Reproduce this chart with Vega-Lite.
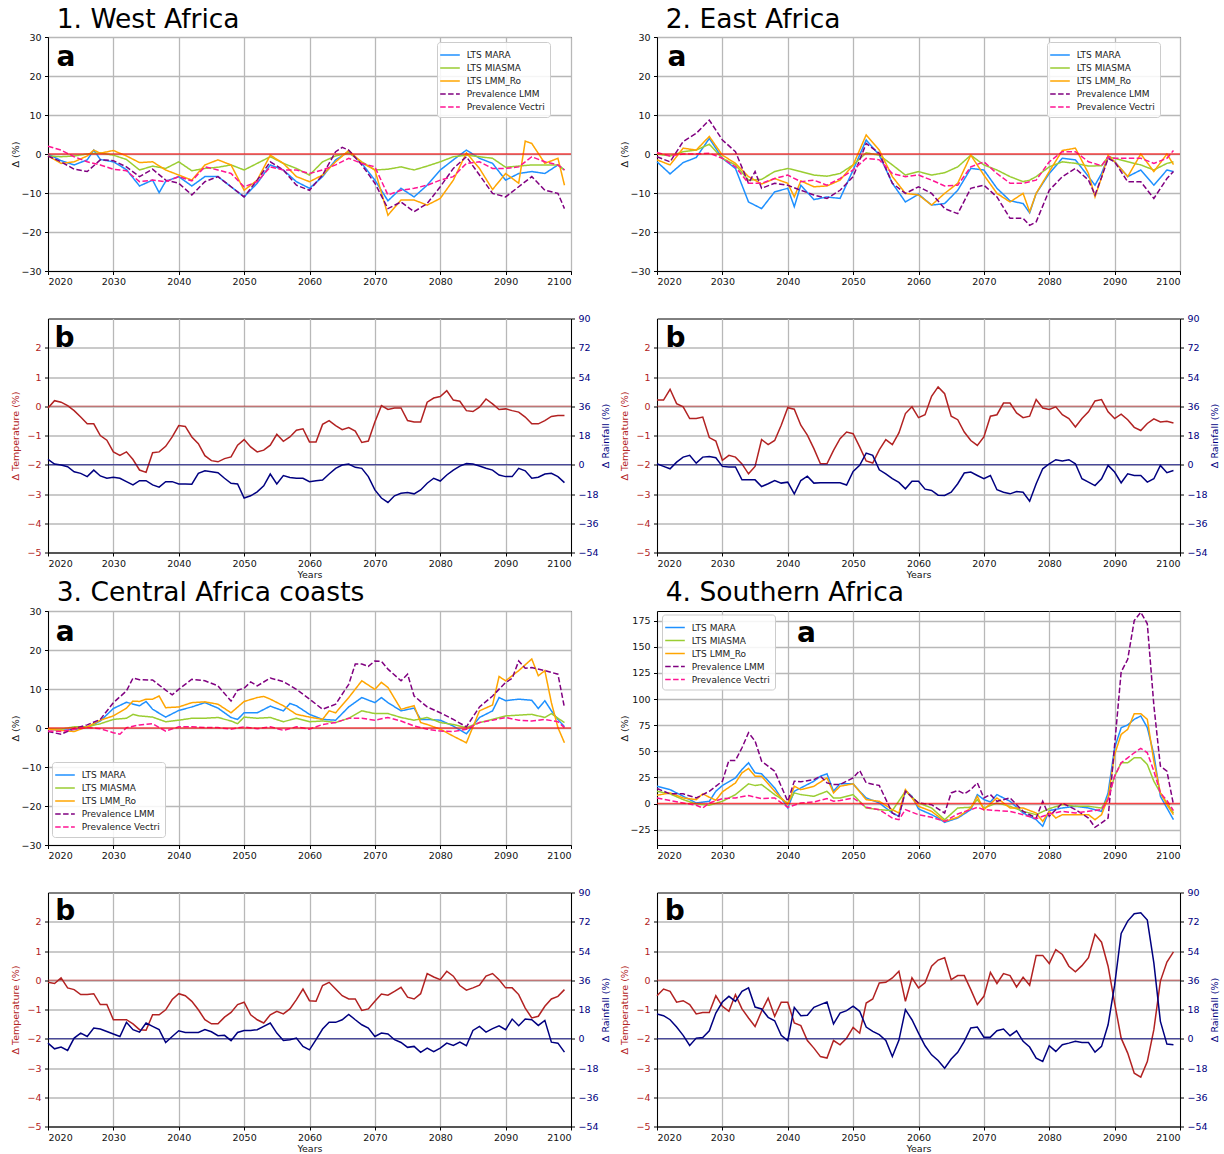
{
"$schema": "https://vega.github.io/schema/vega-lite/v6.json",
"padding": {"left": 9, "top": 6, "right": 2, "bottom": 2},
"background": "white",
"config": {
 "font": "DejaVu Sans",
 "view": {"stroke": "black", "strokeWidth": 1},
 "axis": {"labelFontSize": 9.5, "titleFontSize": 9.5, "titleFontWeight": "normal", "labelColor": "#111111", "titleColor": "#111111", "tickColor": "black", "domainColor": "black", "tickSize": 3.5, "labelPadding": 3.5, "gridColor": "#b8b8b8", "gridWidth": 1.3, "labelOverlap": false},
 "axisX": {"labelPadding": 2},
 "legend": {"labelFontSize": 9, "labelColor": "#222222", "symbolStrokeWidth": 1.5, "symbolSize": 196, "fillColor": "rgba(255,255,255,0.85)", "strokeColor": "#cccccc", "cornerRadius": 3, "padding": 5, "rowPadding": 0, "labelOffset": 8.8},
 "title": {"fontSize": 26.5, "fontWeight": "normal", "anchor": "start", "frame": "group", "color": "black"}
},
"data": {"values": [
{"r":1,"t":2020,"m":0,"i":-0.5,"o":-0.5,"l":-0.5,"v":2,"T":-0.06,"R":3.3},
{"r":1,"t":2021,"T":0.19,"R":0.4},
{"r":1,"t":2022,"m":-1.7,"i":-0.7,"o":-2.4,"l":-2,"v":1,"T":0.14,"R":-0.2},
{"r":1,"t":2023,"T":0.02,"R":-1.2},
{"r":1,"t":2024,"m":-2.8,"i":-0.5,"o":-2,"l":-3.9,"v":-0.7,"T":-0.15,"R":-4.3},
{"r":1,"t":2025,"T":-0.37,"R":-5.3},
{"r":1,"t":2026,"m":-1.5,"i":0,"o":-0.5,"l":-4.5,"v":-2,"T":-0.6,"R":-7.3},
{"r":1,"t":2027,"m":1,"o":1,"T":-0.6,"R":-3.3},
{"r":1,"t":2028,"m":-1.4,"i":0.3,"o":0.2,"l":-1.5,"v":-2.8,"T":-1,"R":-6.9},
{"r":1,"t":2029,"T":-1.16,"R":-8.3},
{"r":1,"t":2030,"m":-2,"i":-0.3,"o":0.9,"l":-1.7,"v":-3.9,"T":-1.56,"R":-7.7},
{"r":1,"t":2031,"T":-1.68,"R":-8.3},
{"r":1,"t":2032,"m":-4,"i":-1.4,"o":-0.5,"l":-3.3,"v":-4.3,"T":-1.56,"R":-10.4},
{"r":1,"t":2033,"T":-1.82,"R":-12.4},
{"r":1,"t":2034,"m":-8.2,"i":-4.1,"o":-2.2,"l":-5.8,"v":-7.1,"T":-2.18,"R":-9.8},
{"r":1,"t":2035,"T":-2.26,"R":-9.8},
{"r":1,"t":2036,"m":-6.7,"i":-3.1,"o":-2,"l":-3.9,"v":-6.7,"T":-1.59,"R":-12.4},
{"r":1,"t":2037,"m":-9.9,"T":-1.56,"R":-13.8},
{"r":1,"t":2038,"m":-7,"i":-3.7,"o":-4.1,"l":-6.7,"v":-7.1,"T":-1.37,"R":-10.4},
{"r":1,"t":2039,"T":-1.05,"R":-10.4},
{"r":1,"t":2040,"m":-5.8,"i":-2,"o":-5.4,"l":-7.5,"v":-5.8,"T":-0.66,"R":-11.8},
{"r":1,"t":2041,"T":-0.69,"R":-11.8},
{"r":1,"t":2042,"m":-8.2,"i":-4.3,"o":-6.7,"l":-10.5,"v":-6.9,"T":-1.05,"R":-12},
{"r":1,"t":2043,"T":-1.28,"R":-5.3},
{"r":1,"t":2044,"m":-5.8,"i":-3.7,"o":-2.8,"l":-7.1,"v":-3.3,"T":-1.69,"R":-3.7},
{"r":1,"t":2045,"T":-1.86,"R":-4.3},
{"r":1,"t":2046,"m":-5.8,"i":-3.4,"o":-1.5,"l":-5.8,"v":-4.1,"T":-1.9,"R":-4.9},
{"r":1,"t":2047,"T":-1.79,"R":-8.3},
{"r":1,"t":2048,"m":-8.4,"i":-2.8,"o":-2.8,"l":-8.4,"v":-5,"T":-1.73,"R":-11.4},
{"r":1,"t":2049,"T":-1.33,"R":-11.8},
{"r":1,"t":2050,"m":-11,"i":-4.1,"o":-9.3,"l":-11,"v":-8.4,"T":-1.14,"R":-20.5},
{"r":1,"t":2051,"T":-1.39,"R":-19.1},
{"r":1,"t":2052,"m":-7.5,"i":-2.4,"o":-6.7,"l":-6.7,"v":-7.1,"T":-1.56,"R":-16.7},
{"r":1,"t":2053,"T":-1.5,"R":-13},
{"r":1,"t":2054,"m":-2.8,"i":-0.7,"o":-0.3,"l":-2,"v":-3.3,"T":-1.33,"R":-5.7},
{"r":1,"t":2055,"T":-0.96,"R":-11.8},
{"r":1,"t":2056,"m":-4.1,"i":-2.4,"o":-2.4,"l":-4.1,"v":-4.1,"T":-1.2,"R":-6.7},
{"r":1,"t":2057,"T":-1.05,"R":-7.9},
{"r":1,"t":2058,"m":-7.1,"i":-3.7,"o":-5.8,"l":-8,"v":-4.1,"T":-0.82,"R":-8.3},
{"r":1,"t":2059,"T":-0.77,"R":-8.3},
{"r":1,"t":2060,"m":-8.8,"i":-5.4,"o":-7.1,"l":-9.3,"v":-5,"T":-1.22,"R":-10.4},
{"r":1,"t":2061,"T":-1.22,"R":-9.8},
{"r":1,"t":2062,"m":-5.8,"i":-2,"o":-5.4,"l":-5.4,"v":-4.1,"T":-0.62,"R":-9.4},
{"r":1,"t":2063,"T":-0.49,"R":-5.7},
{"r":1,"t":2064,"m":-1.5,"i":-0.5,"o":-2,"l":0.6,"v":-2.8,"T":-0.66,"R":-2.2},
{"r":1,"t":2065,"l":1.7,"T":-0.8,"R":-0.2},
{"r":1,"t":2066,"m":0.6,"i":0.3,"o":0.9,"l":1,"v":-1.1,"T":-0.73,"R":0.4},
{"r":1,"t":2067,"T":-0.85,"R":-1.6},
{"r":1,"t":2068,"m":-2.4,"i":-2,"o":-2.2,"l":-2.8,"v":-2.4,"T":-1.24,"R":-2.2},
{"r":1,"t":2069,"T":-1.19,"R":-7.3},
{"r":1,"t":2070,"m":-6.7,"i":-4.1,"o":-4.1,"l":-7.5,"v":-3.3,"T":-0.54,"R":-15.5},
{"r":1,"t":2071,"T":0.02,"R":-20.5},
{"r":1,"t":2072,"m":-12,"i":-3.9,"o":-15.7,"l":-14,"v":-10.5,"T":-0.11,"R":-23.2},
{"r":1,"t":2073,"T":-0.06,"R":-19.1},
{"r":1,"t":2074,"m":-8.8,"i":-3.3,"o":-11.8,"l":-12.3,"v":-9.3,"T":-0.06,"R":-17.5},
{"r":1,"t":2075,"T":-0.49,"R":-17.1},
{"r":1,"t":2076,"m":-11,"i":-4.1,"o":-11.8,"l":-14.8,"v":-8.8,"T":-0.54,"R":-17.9},
{"r":1,"t":2077,"T":-0.54,"R":-15.5},
{"r":1,"t":2078,"m":-8,"i":-3.1,"o":-13.1,"l":-12.7,"v":-8,"T":0.14,"R":-11.4},
{"r":1,"t":2079,"T":0.28,"R":-8.3},
{"r":1,"t":2080,"m":-4.1,"i":-2,"o":-11.4,"l":-8.4,"v":-6.7,"T":0.33,"R":-10},
{"r":1,"t":2081,"T":0.53,"R":-6.3},
{"r":1,"t":2082,"m":-1.5,"i":-0.7,"o":-6.7,"l":-3.7,"v":-5.8,"T":0.21,"R":-3.3},
{"r":1,"t":2083,"T":0.17,"R":-0.8},
{"r":1,"t":2084,"m":1,"i":-0.3,"o":0.3,"l":-0.7,"v":-2.4,"T":-0.15,"R":0.8},
{"r":1,"t":2085,"T":-0.18,"R":0.4},
{"r":1,"t":2086,"m":-1.1,"i":-0.7,"o":-3.7,"l":-5.4,"v":-2,"T":-0.03,"R":-0.8},
{"r":1,"t":2087,"T":0.25,"R":-2.2},
{"r":1,"t":2088,"m":-2.4,"i":-1.1,"o":-9.1,"l":-10.1,"v":-3.7,"T":0.08,"R":-3.3},
{"r":1,"t":2089,"T":-0.11,"R":-6.3},
{"r":1,"t":2090,"m":-6.7,"i":-3.4,"o":-5,"l":-11,"v":-3.7,"T":-0.09,"R":-7.3},
{"r":1,"t":2091,"T":-0.15,"R":-7.3},
{"r":1,"t":2092,"m":-5,"i":-3.1,"o":-7.5,"l":-8.4,"v":-3.3,"T":-0.2,"R":-2.2},
{"r":1,"t":2093,"o":3.3,"T":-0.37,"R":-3.7},
{"r":1,"t":2094,"m":-4.5,"i":-2.8,"o":2.7,"l":-5.8,"v":-0.7,"T":-0.6,"R":-8.3},
{"r":1,"t":2095,"T":-0.6,"R":-7.7},
{"r":1,"t":2096,"m":-5,"i":-2.8,"o":-2.4,"l":-9.3,"v":-2,"T":-0.49,"R":-5.7},
{"r":1,"t":2097,"T":-0.35,"R":-5.3},
{"r":1,"t":2098,"m":-2.8,"i":-2.8,"o":-1.1,"l":-10.1,"v":-2.8,"T":-0.32,"R":-7.3},
{"r":1,"t":2099,"m":-4.1,"i":-4.1,"o":-8,"l":-14,"v":-4.1,"T":-0.32,"R":-11},
{"r":2,"t":2020,"m":-2,"i":0,"o":-1.5,"l":-0.7,"v":0.4,"T":0.21,"R":0.6},
{"r":2,"t":2021,"T":0.21,"R":-1},
{"r":2,"t":2022,"m":-5.1,"i":-0.5,"o":-2.8,"l":-2,"v":-0.5,"T":0.58,"R":-2.5},
{"r":2,"t":2023,"T":0.09,"R":1.6},
{"r":2,"t":2024,"m":-2.2,"i":0.6,"o":1.5,"l":3.2,"v":0,"T":-0.02,"R":4.7},
{"r":2,"t":2025,"T":-0.42,"R":5.8},
{"r":2,"t":2026,"m":-0.9,"i":1,"o":1,"l":5.3,"v":0,"T":-0.42,"R":1},
{"r":2,"t":2027,"T":-0.37,"R":4.7},
{"r":2,"t":2028,"m":4,"i":2.5,"o":4.5,"l":8.7,"v":0.2,"T":-1.07,"R":5.1},
{"r":2,"t":2029,"T":-1.19,"R":4.3},
{"r":2,"t":2030,"m":-1.1,"i":-1.1,"o":-0.3,"l":3.6,"v":-1.1,"T":-1.85,"R":-1},
{"r":2,"t":2031,"T":-1.68,"R":-1.4},
{"r":2,"t":2032,"m":-3.7,"i":-2.8,"o":-2.4,"l":0.6,"v":-3.3,"T":-1.74,"R":-1.4},
{"r":2,"t":2033,"T":-1.97,"R":-9.3},
{"r":2,"t":2034,"m":-12.3,"i":-6.7,"o":-5.8,"l":-7.5,"v":-7.5,"T":-2.31,"R":-9.3},
{"r":2,"t":2035,"l":-4.5,"T":-2.06,"R":-9.3},
{"r":2,"t":2036,"m":-14,"i":-6.5,"o":-7.7,"l":-8.8,"v":-7.5,"T":-1.14,"R":-13.4},
{"r":2,"t":2037,"T":-1.31,"R":-11.7},
{"r":2,"t":2038,"m":-9.7,"i":-4.5,"o":-6.3,"l":-7.5,"v":-6.3,"T":-1.17,"R":-9.7},
{"r":2,"t":2039,"T":-0.65,"R":-11.3},
{"r":2,"t":2040,"m":-8.8,"i":-3.7,"o":-7.5,"l":-8,"v":-5.4,"T":-0.05,"R":-10.7},
{"r":2,"t":2041,"m":-13.5,"o":-11,"T":-0.1,"R":-17.9},
{"r":2,"t":2042,"m":-8,"i":-4.5,"o":-6.9,"l":-9.3,"v":-7.1,"T":-0.65,"R":-9.7},
{"r":2,"t":2043,"T":-0.99,"R":-7},
{"r":2,"t":2044,"m":-11.7,"i":-5.4,"o":-8.4,"l":-10.5,"v":-6.7,"T":-1.45,"R":-11.3},
{"r":2,"t":2045,"T":-1.97,"R":-11.1},
{"r":2,"t":2046,"m":-11,"i":-5.7,"o":-8.2,"l":-11.4,"v":-8,"T":-1.97,"R":-11.1},
{"r":2,"t":2047,"T":-1.51,"R":-11.1},
{"r":2,"t":2048,"m":-11.4,"i":-5,"o":-6.7,"l":-9.3,"v":-6.3,"T":-1.11,"R":-11.1},
{"r":2,"t":2049,"T":-0.88,"R":-12.5},
{"r":2,"t":2050,"m":-4.1,"i":-2.8,"o":-2.8,"l":-5.8,"v":-4.1,"T":-0.94,"R":-4.1},
{"r":2,"t":2051,"T":-1.39,"R":-0.4},
{"r":2,"t":2052,"m":3.6,"i":0.3,"o":4.9,"l":2.7,"v":-1.1,"T":-1.87,"R":7.2},
{"r":2,"t":2053,"T":-1.94,"R":5.8},
{"r":2,"t":2054,"m":-0.3,"i":-0.3,"o":1,"l":0.2,"v":-1.5,"T":-1.49,"R":-3.1},
{"r":2,"t":2055,"T":-1.14,"R":-5.6},
{"r":2,"t":2056,"m":-7.5,"i":-2.8,"o":-5.8,"l":-7.5,"v":-5,"T":-1.31,"R":-8.6},
{"r":2,"t":2057,"T":-0.91,"R":-10.9},
{"r":2,"t":2058,"m":-12.3,"i":-5.4,"o":-10.1,"l":-10.1,"v":-5.8,"T":-0.25,"R":-14.8},
{"r":2,"t":2059,"T":-0.02,"R":-10.1},
{"r":2,"t":2060,"m":-10.3,"i":-4.5,"o":-10.5,"l":-8.4,"v":-5.4,"T":-0.39,"R":-10.1},
{"r":2,"t":2061,"T":-0.29,"R":-15},
{"r":2,"t":2062,"m":-13.1,"i":-5.4,"o":-13.1,"l":-10.1,"v":-6.7,"T":0.34,"R":-15.8},
{"r":2,"t":2063,"T":0.66,"R":-18.7},
{"r":2,"t":2064,"m":-12.7,"i":-4.8,"o":-10.1,"l":-14,"v":-8.2,"T":0.43,"R":-18.9},
{"r":2,"t":2065,"T":-0.34,"R":-16.9},
{"r":2,"t":2066,"m":-9.3,"i":-3.3,"o":-7.5,"l":-15.3,"v":-8,"T":-0.46,"R":-11.7},
{"r":2,"t":2067,"T":-0.88,"R":-5.1},
{"r":2,"t":2068,"m":-3.7,"i":-0.3,"o":-0.3,"l":-8.8,"v":-3.3,"T":-1.17,"R":-4.5},
{"r":2,"t":2069,"T":-1.34,"R":-6.6},
{"r":2,"t":2070,"m":-4.1,"i":-2.8,"o":-5.4,"l":-8,"v":-2,"T":-1.05,"R":-8.6},
{"r":2,"t":2071,"T":-0.34,"R":-6.6},
{"r":2,"t":2072,"m":-8.8,"i":-4.1,"o":-10.1,"l":-11,"v":-5,"T":-0.29,"R":-15.4},
{"r":2,"t":2073,"T":0.11,"R":-16.9},
{"r":2,"t":2074,"m":-12,"i":-5.8,"o":-12.3,"l":-16.5,"v":-7.5,"T":0.11,"R":-17.9},
{"r":2,"t":2075,"T":-0.23,"R":-16.5},
{"r":2,"t":2076,"m":-12.7,"i":-7.1,"o":-10.1,"l":-16.5,"v":-7.5,"T":-0.39,"R":-16.9},
{"r":2,"t":2077,"m":-15.1,"i":-6.7,"o":-14.8,"l":-18.3,"v":-7.1,"T":-0.34,"R":-22.4},
{"r":2,"t":2078,"m":-10.1,"i":-5.8,"o":-10.1,"l":-17.4,"v":-6.7,"T":0.23,"R":-11.7},
{"r":2,"t":2079,"T":-0.06,"R":-2.5},
{"r":2,"t":2080,"m":-5,"i":-3.3,"o":-4.5,"l":-9.3,"v":-2,"T":-0.11,"R":0.6},
{"r":2,"t":2081,"T":-0.02,"R":3.1},
{"r":2,"t":2082,"m":-1.1,"i":-2,"o":0.9,"l":-5.8,"v":0.6,"T":-0.29,"R":2.3},
{"r":2,"t":2083,"T":-0.42,"R":3.1},
{"r":2,"t":2084,"m":-1.5,"i":-2.4,"o":1.5,"l":-3.7,"v":0.6,"T":-0.71,"R":0.6},
{"r":2,"t":2085,"T":-0.42,"R":-8.6},
{"r":2,"t":2086,"m":-5.8,"i":-3.1,"o":-5,"l":-6.7,"v":-2,"T":-0.19,"R":-10.7},
{"r":2,"t":2087,"m":-8,"o":-11,"l":-10.5,"T":0.18,"R":-12.8},
{"r":2,"t":2088,"m":-5,"i":-3,"o":-6,"l":-6,"v":-3,"T":0.23,"R":-8.6},
{"r":2,"t":2089,"m":-0.7,"i":-0.7,"o":-0.3,"l":-1.1,"v":-0.7,"T":-0.19,"R":-0.4},
{"r":2,"t":2090,"m":-2,"i":-1.1,"o":-2,"l":-2,"v":-1.1,"T":-0.42,"R":-4.5},
{"r":2,"t":2091,"T":-0.27,"R":-11.1},
{"r":2,"t":2092,"m":-5.8,"i":-2,"o":-5.8,"l":-7.1,"v":-1.1,"T":-0.46,"R":-5.6},
{"r":2,"t":2093,"T":-0.72,"R":-6.6},
{"r":2,"t":2094,"m":-4.1,"i":-2.8,"o":0,"l":-7.1,"v":-1.1,"T":-0.83,"R":-6.6},
{"r":2,"t":2095,"T":-0.59,"R":-10.7},
{"r":2,"t":2096,"m":-8,"i":-4.1,"o":-4.5,"l":-11.4,"v":-2.4,"T":-0.43,"R":-8.6},
{"r":2,"t":2097,"T":-0.54,"R":-0.4},
{"r":2,"t":2098,"m":-4.1,"i":-2.4,"o":0,"l":-6.3,"v":-1.1,"T":-0.51,"R":-4.9},
{"r":2,"t":2099,"m":-4.5,"i":-2,"o":-2.7,"l":-4.5,"v":0.9,"T":-0.57,"R":-3.5},
{"r":3,"t":2020,"m":-0.3,"i":-0.2,"o":-0.3,"l":-0.9,"v":-0.8,"T":-0.07,"R":-2.7},
{"r":3,"t":2021,"T":-0.11,"R":-6.2},
{"r":3,"t":2022,"m":-0.6,"i":-0.3,"o":-0.6,"l":-1.6,"v":-0.9,"T":0.08,"R":-5.1},
{"r":3,"t":2023,"T":-0.26,"R":-7.2},
{"r":3,"t":2024,"m":-0.4,"i":0.3,"o":-0.9,"l":-0.1,"v":-0.3,"T":-0.32,"R":0.4},
{"r":3,"t":2025,"T":-0.49,"R":3.5},
{"r":3,"t":2026,"m":0.1,"i":0.3,"o":0.3,"l":0.8,"v":0.1,"T":-0.49,"R":1.4},
{"r":3,"t":2027,"T":-0.46,"R":6.6},
{"r":3,"t":2028,"m":1.8,"i":1.1,"o":2,"l":2.2,"v":-0.2,"T":-0.83,"R":6},
{"r":3,"t":2029,"T":-0.83,"R":4.5},
{"r":3,"t":2030,"m":5,"i":2.2,"o":3.1,"l":6.5,"v":-1.2,"T":-1.35,"R":2.9},
{"r":3,"t":2031,"v":-1.6,"T":-1.35,"R":1.4},
{"r":3,"t":2032,"m":6.6,"i":2.5,"o":5.1,"l":9.5,"v":0.1,"T":-1.35,"R":10.1},
{"r":3,"t":2033,"i":3.5,"o":6.9,"l":12.8,"T":-1.49,"R":5.6},
{"r":3,"t":2034,"m":5.7,"i":3.1,"o":6.8,"l":12.4,"v":0.8,"T":-1.69,"R":4.1},
{"r":3,"t":2035,"m":6.8,"o":7.4,"T":-1.71,"R":9.7},
{"r":3,"t":2036,"m":4.8,"i":2.8,"o":7.4,"l":12.3,"v":1.1,"T":-1.18,"R":7.6},
{"r":3,"t":2037,"o":8.2,"T":-1.18,"R":5.6},
{"r":3,"t":2038,"m":2.8,"i":1.6,"o":5.2,"l":9.7,"v":-0.8,"T":-1.01,"R":-2.3},
{"r":3,"t":2039,"l":8.5,"T":-0.66,"R":1.4},
{"r":3,"t":2040,"m":4.5,"i":2,"o":5.4,"l":9.9,"v":0.3,"T":-0.46,"R":4.9},
{"r":3,"t":2041,"T":-0.53,"R":3.9},
{"r":3,"t":2042,"m":5.4,"i":2.5,"o":6.5,"l":12.5,"v":0.3,"T":-0.72,"R":3.9},
{"r":3,"t":2043,"T":-1.01,"R":3.9},
{"r":3,"t":2044,"m":6.5,"i":2.5,"o":6.7,"l":12.1,"v":0.1,"T":-1.35,"R":5.6},
{"r":3,"t":2045,"T":-1.49,"R":4.3},
{"r":3,"t":2046,"m":5.1,"i":2.7,"o":6.1,"l":10.8,"v":0.1,"T":-1.49,"R":1.9},
{"r":3,"t":2047,"T":-1.26,"R":2.1},
{"r":3,"t":2048,"m":2.7,"i":1.8,"o":3.9,"l":6.9,"v":-0.3,"T":-1.1,"R":-1.2},
{"r":3,"t":2049,"m":2.2,"i":1.1,"l":9.7,"T":-0.83,"R":3.9},
{"r":3,"t":2050,"m":3.9,"i":2.8,"o":6.8,"l":10.2,"v":0.3,"T":-0.75,"R":5.1},
{"r":3,"t":2051,"l":11.8,"T":-1.18,"R":5.1},
{"r":3,"t":2052,"m":3.9,"i":2.5,"o":7.8,"l":10.8,"v":-0.2,"T":-1.35,"R":5.6},
{"r":3,"t":2053,"o":8.1,"T":-1.46,"R":7.6},
{"r":3,"t":2054,"m":5.6,"i":2.7,"o":7.4,"l":12.8,"v":0.3,"T":-1.18,"R":9.7},
{"r":3,"t":2055,"T":-1.06,"R":3.5},
{"r":3,"t":2056,"m":4.4,"i":1.6,"o":5.7,"l":11.9,"v":-0.6,"T":-1.15,"R":-1},
{"r":3,"t":2057,"m":6.3,"T":-0.98,"R":-0.6},
{"r":3,"t":2058,"m":5.7,"i":2.5,"o":3.5,"l":9.9,"v":0.3,"T":-0.66,"R":0.4},
{"r":3,"t":2059,"T":-0.3,"R":-4.7},
{"r":3,"t":2060,"m":3.5,"i":1.6,"o":2.8,"l":7.4,"v":-0.3,"T":-0.7,"R":-6.8},
{"r":3,"t":2061,"T":-0.72,"R":-0.6},
{"r":3,"t":2062,"m":2.2,"i":1.8,"o":2.2,"l":4.8,"v":0.9,"T":-0.18,"R":6},
{"r":3,"t":2063,"o":4.4,"T":-0.07,"R":10.1},
{"r":3,"t":2064,"m":2,"i":1.4,"o":3.9,"l":6.1,"v":1.4,"T":-0.3,"R":10.1},
{"r":3,"t":2065,"T":-0.53,"R":11.7},
{"r":3,"t":2066,"m":5.4,"i":2.5,"o":7.8,"l":11.2,"v":2.5,"T":-0.64,"R":15},
{"r":3,"t":2067,"l":16.4,"T":-0.64,"R":11.7},
{"r":3,"t":2068,"m":7.8,"i":4.4,"o":12.1,"l":16.4,"v":2.5,"T":-1.03,"R":8.6},
{"r":3,"t":2069,"l":15.8,"T":-0.98,"R":6.6},
{"r":3,"t":2070,"m":6.5,"i":3.7,"o":9.9,"l":17.2,"v":2,"T":-0.72,"R":1.4},
{"r":3,"t":2071,"m":7.8,"o":11.7,"l":17.1,"T":-0.47,"R":3.5},
{"r":3,"t":2072,"m":6.5,"i":3.7,"o":10.4,"l":15.1,"v":2.7,"T":-0.51,"R":2.9},
{"r":3,"t":2073,"T":-0.38,"R":-0.6},
{"r":3,"t":2074,"m":4.4,"i":2.7,"o":4.8,"l":12.1,"v":1.8,"T":-0.24,"R":-2.3},
{"r":3,"t":2075,"l":13.8,"T":-0.58,"R":-5.3},
{"r":3,"t":2076,"m":5.1,"i":2,"o":5.7,"l":8.2,"v":0.5,"T":-0.64,"R":-4.7},
{"r":3,"t":2077,"m":2.2,"o":1.4,"T":-0.46,"R":-8.4},
{"r":3,"t":2078,"m":2.2,"i":2.7,"o":0.9,"l":5.4,"v":-0.3,"T":0.23,"R":-5.8},
{"r":3,"t":2079,"T":0.11,"R":-8},
{"r":3,"t":2080,"m":2,"i":1.4,"o":-0.3,"l":3.9,"v":-0.8,"T":0.02,"R":-5.8},
{"r":3,"t":2081,"T":0.31,"R":-2.7},
{"r":3,"t":2082,"m":0.5,"i":0.9,"o":-2.1,"l":2.2,"v":-0.9,"T":0.14,"R":-4.1},
{"r":3,"t":2083,"T":-0.18,"R":-2.1},
{"r":3,"t":2084,"m":-1.5,"i":0.1,"o":-3.8,"l":0.3,"v":-0.3,"T":-0.34,"R":-4.3},
{"r":3,"t":2085,"o":0.3,"T":-0.26,"R":5.1},
{"r":3,"t":2086,"m":2.7,"i":1.4,"o":4.4,"l":5.4,"v":1.4,"T":-0.17,"R":7.6},
{"r":3,"t":2087,"T":0.14,"R":4.1},
{"r":3,"t":2088,"m":4.4,"i":2.2,"o":5.9,"l":8.2,"v":2,"T":0.23,"R":6.2},
{"r":3,"t":2089,"m":7.8,"o":13.2,"T":0.02,"R":8},
{"r":3,"t":2090,"m":7,"i":3.1,"o":12.1,"l":11.7,"v":2.7,"T":-0.26,"R":5.6},
{"r":3,"t":2091,"l":12.7,"T":-0.26,"R":12.1},
{"r":3,"t":2092,"m":7.4,"i":3.3,"o":14.7,"l":17.2,"v":2,"T":-0.49,"R":8},
{"r":3,"t":2093,"l":15.3,"T":-0.95,"R":12.1},
{"r":3,"t":2094,"m":7.1,"i":3.5,"o":17.7,"l":15.5,"v":1.8,"T":-1.29,"R":11.7},
{"r":3,"t":2095,"m":5,"o":13.4,"T":-1.23,"R":8.2},
{"r":3,"t":2096,"m":7,"i":2.7,"o":14.7,"l":14.7,"v":2.2,"T":-0.89,"R":11.3},
{"r":3,"t":2097,"m":4.4,"i":3.7,"o":6.5,"T":-0.64,"R":-2.1},
{"r":3,"t":2098,"m":2.2,"i":2.5,"o":0.1,"l":13.8,"v":1.6,"T":-0.55,"R":-2.7},
{"r":3,"t":2099,"m":0.3,"i":1.4,"o":-3.8,"l":5.2,"v":0.1,"T":-0.32,"R":-8.2},
{"r":4,"t":2020,"m":16.6,"i":11.8,"o":8,"l":14.4,"v":5.4,"T":-0.53,"R":15.2},
{"r":4,"t":2021,"T":-0.3,"R":14.2},
{"r":4,"t":2022,"m":13.4,"i":9.3,"o":10.2,"l":9.3,"v":2.9,"T":-0.38,"R":11.7},
{"r":4,"t":2023,"T":-0.75,"R":7.2},
{"r":4,"t":2024,"m":7,"i":3.8,"o":5.4,"l":9.3,"v":0.6,"T":-0.7,"R":2.1},
{"r":4,"t":2025,"T":-0.83,"R":-4.1},
{"r":4,"t":2026,"m":0.6,"i":-0.3,"o":3.8,"l":5.4,"v":-1.6,"T":-1.15,"R":0.4},
{"r":4,"t":2027,"o":9.3,"l":8.6,"v":-4.2,"T":-1.1,"R":0.8},
{"r":4,"t":2028,"m":2.2,"i":-1.6,"o":6.1,"l":11.8,"v":0.6,"T":-1.1,"R":4.9},
{"r":4,"t":2029,"m":11.8,"o":3.2,"T":-0.53,"R":15.8},
{"r":4,"t":2030,"m":17.3,"i":2.2,"o":11.2,"l":21.4,"v":4.8,"T":-0.89,"R":22.6},
{"r":4,"t":2031,"l":41.3,"T":-1.06,"R":26.1},
{"r":4,"t":2032,"m":24.6,"i":8.6,"o":19.8,"l":41.3,"v":5.4,"T":-0.49,"R":23},
{"r":4,"t":2033,"m":32.6,"o":29.4,"l":53.4,"T":-0.98,"R":29.2},
{"r":4,"t":2034,"m":39,"i":18.9,"o":33.6,"l":67.8,"v":7.7,"T":-1.29,"R":31.3},
{"r":4,"t":2035,"m":29.4,"i":17.3,"o":26.2,"l":59.8,"T":-1.58,"R":19.5},
{"r":4,"t":2036,"m":28.5,"i":18.2,"o":26.2,"l":40.6,"v":4.8,"T":-1.06,"R":18.3},
{"r":4,"t":2037,"T":-0.61,"R":13.2},
{"r":4,"t":2038,"m":15,"i":8.6,"o":11.8,"l":31,"v":5.4,"T":-1.23,"R":11.1},
{"r":4,"t":2039,"T":-0.75,"R":2.1},
{"r":4,"t":2040,"m":-4.2,"i":0.6,"o":-1,"l":2.2,"v":-3.5,"T":-0.75,"R":-1.2},
{"r":4,"t":2041,"m":11.8,"i":10.2,"o":16.6,"l":21.4,"T":-1.46,"R":19.3},
{"r":4,"t":2042,"m":15,"i":8.6,"o":13.4,"l":20.8,"v":0.6,"T":-1.55,"R":14.2},
{"r":4,"t":2043,"T":-2.06,"R":14.4},
{"r":4,"t":2044,"m":21.4,"i":7,"o":16.6,"l":23,"v":1.6,"T":-2.32,"R":19.3},
{"r":4,"t":2045,"m":26.2,"l":26.2,"T":-2.61,"R":21},
{"r":4,"t":2046,"m":28.5,"i":11.8,"o":24.6,"l":19.8,"v":4.8,"T":-2.66,"R":22.6},
{"r":4,"t":2047,"m":11.8,"i":5.4,"o":10.2,"l":18.2,"v":2.2,"T":-2.06,"R":9.1},
{"r":4,"t":2048,"m":18.9,"i":5.4,"o":16.6,"l":18.2,"v":2.9,"T":-2.21,"R":15.8},
{"r":4,"t":2049,"T":-1.98,"R":17.3},
{"r":4,"t":2050,"m":18.9,"i":8.6,"o":18.9,"l":24.6,"v":5.4,"T":-1.61,"R":20},
{"r":4,"t":2051,"m":11.8,"l":31.7,"T":-1.81,"R":16.9},
{"r":4,"t":2052,"m":5.4,"i":-4.2,"o":3.8,"l":19.8,"v":-3.5,"T":-0.78,"R":7.2},
{"r":4,"t":2053,"T":-0.64,"R":4.5},
{"r":4,"t":2054,"m":0.6,"i":-5.8,"o":2.2,"l":17.3,"v":-5.8,"T":-0.09,"R":2.5},
{"r":4,"t":2055,"T":-0.07,"R":-1},
{"r":4,"t":2056,"m":-9,"i":-6.7,"o":-5.8,"l":-9,"v":-13.8,"T":0.08,"R":-10.9},
{"r":4,"t":2057,"m":-12.2,"o":-9,"l":-12.2,"v":-15.4,"T":0.31,"R":-1},
{"r":4,"t":2058,"m":12.5,"i":11.8,"o":13.4,"l":11.8,"v":-5.8,"T":-0.72,"R":17.9},
{"r":4,"t":2059,"m":7,"T":0.08,"R":11.7},
{"r":4,"t":2060,"m":-5.1,"i":0.6,"o":-2.6,"l":0.6,"v":-10.6,"T":-0.26,"R":3.5},
{"r":4,"t":2061,"T":-0.09,"R":-4.3},
{"r":4,"t":2062,"m":-10.6,"i":-4.2,"o":-7.4,"l":-1,"v":-13.1,"T":0.48,"R":-9.9},
{"r":4,"t":2063,"m":-13.8,"T":0.69,"R":-13.4},
{"r":4,"t":2064,"m":-17.9,"i":-15.4,"o":-17,"l":-9,"v":-17,"T":0.77,"R":-18.1},
{"r":4,"t":2065,"l":10.2,"T":0.02,"R":-12.5},
{"r":4,"t":2066,"m":-13.8,"i":-4.2,"o":-13.1,"l":12.5,"v":-9.9,"T":0.16,"R":-8.4},
{"r":4,"t":2067,"l":9.3,"T":0.16,"R":-1.6},
{"r":4,"t":2068,"m":-5.8,"i":-3.5,"o":-4.2,"l":13.4,"v":-5.8,"T":-0.32,"R":6.6},
{"r":4,"t":2069,"m":8.6,"i":3.8,"o":7,"l":19.8,"v":-3.5,"T":-0.83,"R":7.2},
{"r":4,"t":2070,"m":3.8,"i":-4.2,"o":-5.8,"l":5.4,"v":-5.8,"T":-0.55,"R":1},
{"r":4,"t":2071,"m":1.6,"l":8.6,"T":0.27,"R":1},
{"r":4,"t":2072,"m":8.6,"i":0.6,"o":5.4,"l":2.2,"v":-6.7,"T":-0.11,"R":4.9},
{"r":4,"t":2073,"T":0.23,"R":6},
{"r":4,"t":2074,"m":2.2,"i":-2.6,"o":-4.2,"l":5.4,"v":-7.4,"T":0.16,"R":1.9},
{"r":4,"t":2075,"T":-0.23,"R":4.9},
{"r":4,"t":2076,"m":-9,"i":-7.4,"o":-4.2,"l":-7.4,"v":-10.6,"T":0.1,"R":-1.6},
{"r":4,"t":2077,"T":-0.17,"R":-5.1},
{"r":4,"t":2078,"m":-15.4,"i":-10.6,"o":-9,"l":-13.8,"v":-14.4,"T":0.85,"R":-11.9},
{"r":4,"t":2079,"m":-21.7,"o":-17,"l":2.2,"T":0.85,"R":-14},
{"r":4,"t":2080,"m":-6.7,"i":-4.8,"o":-7.4,"l":-12.2,"v":-9.9,"T":0.57,"R":-4.3},
{"r":4,"t":2081,"o":-13.8,"T":1.05,"R":-7.8},
{"r":4,"t":2082,"m":-4.2,"i":-1,"o":-10.6,"l":0.6,"v":-7.4,"T":0.88,"R":-3.7},
{"r":4,"t":2083,"T":0.48,"R":-2.7},
{"r":4,"t":2084,"m":-2.6,"i":-2.6,"o":-10.6,"l":-5.8,"v":-9,"T":0.29,"R":-1.6},
{"r":4,"t":2085,"T":0.5,"R":-2.3},
{"r":4,"t":2086,"m":-4.2,"i":-2.6,"o":-10.6,"l":-13.8,"v":-7.4,"T":0.77,"R":-2.3},
{"r":4,"t":2087,"o":-15.4,"l":-22.7,"T":1.57,"R":-8.2},
{"r":4,"t":2088,"m":-7.4,"i":-4.2,"o":-10.6,"l":-18.5,"v":-5.8,"T":1.3,"R":-4.7},
{"r":4,"t":2089,"m":10.2,"i":5.4,"o":5.4,"l":-13.8,"v":3.8,"T":0.48,"R":8.6},
{"r":4,"t":2090,"m":53.4,"i":26.2,"o":47,"l":56,"v":26.2,"T":-0.78,"R":33},
{"r":4,"t":2091,"m":72.6,"i":39,"o":66.2,"l":126,"v":39,"T":-1.98,"R":64.8},
{"r":4,"t":2092,"m":75.2,"i":39,"o":71,"l":138,"v":43.8,"T":-2.49,"R":72.4},
{"r":4,"t":2093,"m":80.6,"i":43.8,"o":86,"l":175,"v":48.6,"T":-3.18,"R":76.9},
{"r":4,"t":2094,"m":83.8,"i":43.8,"o":86,"l":183,"v":52.8,"T":-3.31,"R":77.5},
{"r":4,"t":2095,"m":72.6,"i":37.4,"o":80.6,"l":172,"v":48.6,"T":-2.78,"R":73},
{"r":4,"t":2096,"m":47,"i":21.4,"o":40.6,"l":94,"v":31,"T":-1.69,"R":46.7},
{"r":4,"t":2097,"m":7,"i":10.2,"o":10.2,"l":35.8,"v":10.2,"T":-0.03,"R":10.7},
{"r":4,"t":2098,"m":-4.2,"i":0.6,"o":-1,"l":31,"v":2.9,"T":0.62,"R":-3.3},
{"r":4,"t":2099,"m":-15.4,"i":-9,"o":-10.6,"l":-1,"v":-6.7,"T":0.97,"R":-3.7}
]},
"spacing": 0,
"resolve": {"scale": {"color": "independent", "strokeDash": "independent"}, "legend": {"color": "independent", "strokeDash": "independent"}},
"vconcat": [
 {"hconcat": [
  {"vconcat": [
   {"width": 523, "height": 234,
    "title": {"text": "1. West Africa", "offset": -22.5, "dx": 8.7, "baseline": "alphabetic", "frame": "group"},
    "layer": [
     {"transform": [{"filter": "datum.r == 1"}, {"fold": ["m","i","o","l","v"], "as": ["k","val"]}, {"filter": "isValid(datum.val)"}],
      "mark": {"type": "line", "strokeWidth": 1.5},
      "encoding": {
       "x": {"field": "t", "type": "quantitative", "scale": {"domain": [2020, 2100], "nice": false, "zero": false}, "axis": {"values": [2020,2030,2040,2050,2060,2070,2080,2090,2100], "tickCount": 20, "format": "d", "title": null, "grid": true, "labelOverlap": false}},
       "y": {"field": "val", "type": "quantitative", "scale": {"domain": [-30, 30], "nice": false, "zero": false}, "axis": {"values": [-30,-20,-10,0,10,20,30], "tickCount": 20, "format": "d", "title": "Δ (%)", "grid": true, "labelOverlap": false, "minExtent": 27, "maxExtent": 27, "titlePadding": 1}},
       "color": {"field": "k", "type": "nominal", "scale": {"domain": ["m","i","o","l","v"], "range": ["#1e90ff","#9acd32","#ffa500","#800080","#ff1493"]}, "legend": {"title": null, "orient": "none", "legendX": 389, "legendY": 5, "direction": "vertical", "symbolType": "M-1.4,0H1.4", "labelExpr": "datum.label == 'm' ? 'LTS MARA' : datum.label == 'i' ? 'LTS MIASMA' : datum.label == 'o' ? 'LTS LMM_Ro' : datum.label == 'l' ? 'Prevalence LMM' : 'Prevalence Vectri'"}},
       "strokeDash": {"field": "k", "type": "nominal", "scale": {"domain": ["m","i","o","l","v"], "range": [[1,0],[1,0],[1,0],[5.5,2.4],[5.5,2.4]]}, "legend": {"title": null, "orient": "none", "legendX": 389, "legendY": 5, "direction": "vertical", "symbolType": "M-1.4,0H1.4", "labelExpr": "datum.label == 'm' ? 'LTS MARA' : datum.label == 'i' ? 'LTS MIASMA' : datum.label == 'o' ? 'LTS LMM_Ro' : datum.label == 'l' ? 'Prevalence LMM' : 'Prevalence Vectri'"}}
      }},
     {"data": {"values": [{"ref": 0}]}, "mark": {"type": "rule", "color": "red", "opacity": 0.7, "strokeWidth": 1.5}, "encoding": {"y": {"datum": 0}}},
     {"data": {"values": [{"lab": "a"}]}, "mark": {"type": "text", "fontSize": 28, "fontWeight": "bold", "align": "left", "baseline": "alphabetic", "color": "black"}, "encoding": {"x": {"datum": 2021.3}, "y": {"datum": 22.6}, "text": {"field": "lab"}}}
    ]},
   {"width": 523, "height": 234,
    "layer": [
     {"layer": [
      {"transform": [{"filter": "datum.r == 1 && isValid(datum.T)"}], "mark": {"type": "line", "color": "#b22222", "strokeWidth": 1.5},
       "encoding": {"x": {"field": "t", "type": "quantitative", "scale": {"domain": [2020, 2100], "nice": false, "zero": false}, "axis": {"values": [2020,2030,2040,2050,2060,2070,2080,2090,2100], "tickCount": 20, "format": "d", "title": "Years", "titlePadding": 1.5, "grid": true, "labelOverlap": false}},
        "y": {"field": "T", "type": "quantitative", "scale": {"domain": [-5, 3], "nice": false, "zero": false}, "axis": {"orient": "left", "values": [-5,-4,-3,-2,-1,0,1,2], "tickCount": 20, "format": "d", "title": "Δ Temperature (%)", "titleColor": "#b22222", "labelColor": "#b22222", "grid": true, "labelOverlap": false, "minExtent": 27, "maxExtent": 27, "titlePadding": 1}}}},
      {"data": {"values": [{"ref": 0}]}, "mark": {"type": "rule", "color": "#b22222", "opacity": 0.5, "strokeWidth": 1.5}, "encoding": {"y": {"datum": 0}}},
      {"data": {"values": [{"lab": "b"}]}, "mark": {"type": "text", "fontSize": 28, "fontWeight": "bold", "align": "left", "baseline": "alphabetic", "color": "black"}, "encoding": {"x": {"datum": 2021.0}, "y": {"datum": 2.03}, "text": {"field": "lab"}}}
     ]},
     {"layer": [
      {"transform": [{"filter": "datum.r == 1 && isValid(datum.R)"}], "mark": {"type": "line", "color": "navy", "strokeWidth": 1.5},
       "encoding": {"x": {"field": "t", "type": "quantitative", "axis": {"values": [2020,2030,2040,2050,2060,2070,2080,2090,2100], "tickCount": 20, "format": "d", "title": "Years", "titlePadding": 1.5, "grid": true, "labelOverlap": false}},
        "y": {"field": "R", "type": "quantitative", "scale": {"domain": [-54, 90], "nice": false, "zero": false}, "axis": {"orient": "right", "values": [-54,-36,-18,0,18,36,54,72,90], "tickCount": 20, "format": "d", "title": "Δ Rainfall (%)", "titleColor": "navy", "labelColor": "navy", "grid": false, "labelOverlap": false, "titleAngle": 270, "titleBaseline": "top", "minExtent": 27, "maxExtent": 27, "titlePadding": 2}}}},
      {"data": {"values": [{"ref": 0}]}, "mark": {"type": "rule", "color": "navy", "opacity": 0.85, "strokeWidth": 1}, "encoding": {"y": {"datum": 0}}}
     ]}
    ],
    "resolve": {"scale": {"y": "independent"}}}
  ], "spacing": 25.5, "resolve": {"scale": {"color": "independent", "strokeDash": "independent"}, "legend": {"color": "independent", "strokeDash": "independent"}}},
  {"vconcat": [
   {"width": 523, "height": 234,
    "title": {"text": "2. East Africa", "offset": -22.5, "dx": 8.7, "baseline": "alphabetic", "frame": "group"},
    "layer": [
     {"transform": [{"filter": "datum.r == 2"}, {"fold": ["m","i","o","l","v"], "as": ["k","val"]}, {"filter": "isValid(datum.val)"}],
      "mark": {"type": "line", "strokeWidth": 1.5},
      "encoding": {
       "x": {"field": "t", "type": "quantitative", "scale": {"domain": [2020, 2100], "nice": false, "zero": false}, "axis": {"values": [2020,2030,2040,2050,2060,2070,2080,2090,2100], "tickCount": 20, "format": "d", "title": null, "grid": true, "labelOverlap": false}},
       "y": {"field": "val", "type": "quantitative", "scale": {"domain": [-30, 30], "nice": false, "zero": false}, "axis": {"values": [-30,-20,-10,0,10,20,30], "tickCount": 20, "format": "d", "title": "Δ (%)", "grid": true, "labelOverlap": false, "minExtent": 27, "maxExtent": 27, "titlePadding": 1}},
       "color": {"field": "k", "type": "nominal", "scale": {"domain": ["m","i","o","l","v"], "range": ["#1e90ff","#9acd32","#ffa500","#800080","#ff1493"]}, "legend": {"title": null, "orient": "none", "legendX": 390, "legendY": 5, "direction": "vertical", "symbolType": "M-1.4,0H1.4", "labelExpr": "datum.label == 'm' ? 'LTS MARA' : datum.label == 'i' ? 'LTS MIASMA' : datum.label == 'o' ? 'LTS LMM_Ro' : datum.label == 'l' ? 'Prevalence LMM' : 'Prevalence Vectri'"}},
       "strokeDash": {"field": "k", "type": "nominal", "scale": {"domain": ["m","i","o","l","v"], "range": [[1,0],[1,0],[1,0],[5.5,2.4],[5.5,2.4]]}, "legend": {"title": null, "orient": "none", "legendX": 390, "legendY": 5, "direction": "vertical", "symbolType": "M-1.4,0H1.4", "labelExpr": "datum.label == 'm' ? 'LTS MARA' : datum.label == 'i' ? 'LTS MIASMA' : datum.label == 'o' ? 'LTS LMM_Ro' : datum.label == 'l' ? 'Prevalence LMM' : 'Prevalence Vectri'"}}
      }},
     {"data": {"values": [{"ref": 0}]}, "mark": {"type": "rule", "color": "red", "opacity": 0.7, "strokeWidth": 1.5}, "encoding": {"y": {"datum": 0}}},
     {"data": {"values": [{"lab": "a"}]}, "mark": {"type": "text", "fontSize": 28, "fontWeight": "bold", "align": "left", "baseline": "alphabetic", "color": "black"}, "encoding": {"x": {"datum": 2021.6}, "y": {"datum": 22.6}, "text": {"field": "lab"}}}
    ]},
   {"width": 523, "height": 234,
    "layer": [
     {"layer": [
      {"transform": [{"filter": "datum.r == 2 && isValid(datum.T)"}], "mark": {"type": "line", "color": "#b22222", "strokeWidth": 1.5},
       "encoding": {"x": {"field": "t", "type": "quantitative", "scale": {"domain": [2020, 2100], "nice": false, "zero": false}, "axis": {"values": [2020,2030,2040,2050,2060,2070,2080,2090,2100], "tickCount": 20, "format": "d", "title": "Years", "titlePadding": 1.5, "grid": true, "labelOverlap": false}},
        "y": {"field": "T", "type": "quantitative", "scale": {"domain": [-5, 3], "nice": false, "zero": false}, "axis": {"orient": "left", "values": [-5,-4,-3,-2,-1,0,1,2], "tickCount": 20, "format": "d", "title": "Δ Temperature (%)", "titleColor": "#b22222", "labelColor": "#b22222", "grid": true, "labelOverlap": false, "minExtent": 27, "maxExtent": 27, "titlePadding": 1}}}},
      {"data": {"values": [{"ref": 0}]}, "mark": {"type": "rule", "color": "#b22222", "opacity": 0.5, "strokeWidth": 1.5}, "encoding": {"y": {"datum": 0}}},
      {"data": {"values": [{"lab": "b"}]}, "mark": {"type": "text", "fontSize": 28, "fontWeight": "bold", "align": "left", "baseline": "alphabetic", "color": "black"}, "encoding": {"x": {"datum": 2021.3}, "y": {"datum": 2.03}, "text": {"field": "lab"}}}
     ]},
     {"layer": [
      {"transform": [{"filter": "datum.r == 2 && isValid(datum.R)"}], "mark": {"type": "line", "color": "navy", "strokeWidth": 1.5},
       "encoding": {"x": {"field": "t", "type": "quantitative", "axis": {"values": [2020,2030,2040,2050,2060,2070,2080,2090,2100], "tickCount": 20, "format": "d", "title": "Years", "titlePadding": 1.5, "grid": true, "labelOverlap": false}},
        "y": {"field": "R", "type": "quantitative", "scale": {"domain": [-54, 90], "nice": false, "zero": false}, "axis": {"orient": "right", "values": [-54,-36,-18,0,18,36,54,72,90], "tickCount": 20, "format": "d", "title": "Δ Rainfall (%)", "titleColor": "navy", "labelColor": "navy", "grid": false, "labelOverlap": false, "titleAngle": 270, "titleBaseline": "top", "minExtent": 27, "maxExtent": 27, "titlePadding": 2}}}},
      {"data": {"values": [{"ref": 0}]}, "mark": {"type": "rule", "color": "navy", "opacity": 0.85, "strokeWidth": 1}, "encoding": {"y": {"datum": 0}}}
     ]}
    ],
    "resolve": {"scale": {"y": "independent"}}}
  ], "spacing": 25.5, "resolve": {"scale": {"color": "independent", "strokeDash": "independent"}, "legend": {"color": "independent", "strokeDash": "independent"}}}
 ], "spacing": 8, "resolve": {"scale": {"color": "independent", "strokeDash": "independent"}, "legend": {"color": "independent", "strokeDash": "independent"}}},
 {"hconcat": [
  {"vconcat": [
   {"width": 523, "height": 234,
    "title": {"text": "3. Central Africa coasts", "offset": -21.5, "dx": 8.7, "baseline": "alphabetic", "frame": "group"},
    "layer": [
     {"transform": [{"filter": "datum.r == 3"}, {"fold": ["m","i","o","l","v"], "as": ["k","val"]}, {"filter": "isValid(datum.val)"}],
      "mark": {"type": "line", "strokeWidth": 1.5},
      "encoding": {
       "x": {"field": "t", "type": "quantitative", "scale": {"domain": [2020, 2100], "nice": false, "zero": false}, "axis": {"values": [2020,2030,2040,2050,2060,2070,2080,2090,2100], "tickCount": 20, "format": "d", "title": null, "grid": true, "labelOverlap": false}},
       "y": {"field": "val", "type": "quantitative", "scale": {"domain": [-30, 30], "nice": false, "zero": false}, "axis": {"values": [-30,-20,-10,0,10,20,30], "tickCount": 20, "format": "d", "title": "Δ (%)", "grid": true, "labelOverlap": false, "minExtent": 27, "maxExtent": 27, "titlePadding": 1}},
       "color": {"field": "k", "type": "nominal", "scale": {"domain": ["m","i","o","l","v"], "range": ["#1e90ff","#9acd32","#ffa500","#800080","#ff1493"]}, "legend": {"title": null, "orient": "none", "legendX": 4, "legendY": 151, "direction": "vertical", "symbolType": "M-1.4,0H1.4", "labelExpr": "datum.label == 'm' ? 'LTS MARA' : datum.label == 'i' ? 'LTS MIASMA' : datum.label == 'o' ? 'LTS LMM_Ro' : datum.label == 'l' ? 'Prevalence LMM' : 'Prevalence Vectri'"}},
       "strokeDash": {"field": "k", "type": "nominal", "scale": {"domain": ["m","i","o","l","v"], "range": [[1,0],[1,0],[1,0],[5.5,2.4],[5.5,2.4]]}, "legend": {"title": null, "orient": "none", "legendX": 4, "legendY": 151, "direction": "vertical", "symbolType": "M-1.4,0H1.4", "labelExpr": "datum.label == 'm' ? 'LTS MARA' : datum.label == 'i' ? 'LTS MIASMA' : datum.label == 'o' ? 'LTS LMM_Ro' : datum.label == 'l' ? 'Prevalence LMM' : 'Prevalence Vectri'"}}
      }},
     {"data": {"values": [{"ref": 0}]}, "mark": {"type": "rule", "color": "red", "opacity": 0.7, "strokeWidth": 1.5}, "encoding": {"y": {"datum": 0}}},
     {"data": {"values": [{"lab": "a"}]}, "mark": {"type": "text", "fontSize": 28, "fontWeight": "bold", "align": "left", "baseline": "alphabetic", "color": "black"}, "encoding": {"x": {"datum": 2021.2}, "y": {"datum": 22.4}, "text": {"field": "lab"}}}
    ]},
   {"width": 523, "height": 234,
    "layer": [
     {"layer": [
      {"transform": [{"filter": "datum.r == 3 && isValid(datum.T)"}], "mark": {"type": "line", "color": "#b22222", "strokeWidth": 1.5},
       "encoding": {"x": {"field": "t", "type": "quantitative", "scale": {"domain": [2020, 2100], "nice": false, "zero": false}, "axis": {"values": [2020,2030,2040,2050,2060,2070,2080,2090,2100], "tickCount": 20, "format": "d", "title": "Years", "titlePadding": 1.5, "grid": true, "labelOverlap": false}},
        "y": {"field": "T", "type": "quantitative", "scale": {"domain": [-5, 3], "nice": false, "zero": false}, "axis": {"orient": "left", "values": [-5,-4,-3,-2,-1,0,1,2], "tickCount": 20, "format": "d", "title": "Δ Temperature (%)", "titleColor": "#b22222", "labelColor": "#b22222", "grid": true, "labelOverlap": false, "minExtent": 27, "maxExtent": 27, "titlePadding": 1}}}},
      {"data": {"values": [{"ref": 0}]}, "mark": {"type": "rule", "color": "#b22222", "opacity": 0.5, "strokeWidth": 1.5}, "encoding": {"y": {"datum": 0}}},
      {"data": {"values": [{"lab": "b"}]}, "mark": {"type": "text", "fontSize": 28, "fontWeight": "bold", "align": "left", "baseline": "alphabetic", "color": "black"}, "encoding": {"x": {"datum": 2021.1}, "y": {"datum": 2.05}, "text": {"field": "lab"}}}
     ]},
     {"layer": [
      {"transform": [{"filter": "datum.r == 3 && isValid(datum.R)"}], "mark": {"type": "line", "color": "navy", "strokeWidth": 1.5},
       "encoding": {"x": {"field": "t", "type": "quantitative", "axis": {"values": [2020,2030,2040,2050,2060,2070,2080,2090,2100], "tickCount": 20, "format": "d", "title": "Years", "titlePadding": 1.5, "grid": true, "labelOverlap": false}},
        "y": {"field": "R", "type": "quantitative", "scale": {"domain": [-54, 90], "nice": false, "zero": false}, "axis": {"orient": "right", "values": [-54,-36,-18,0,18,36,54,72,90], "tickCount": 20, "format": "d", "title": "Δ Rainfall (%)", "titleColor": "navy", "labelColor": "navy", "grid": false, "labelOverlap": false, "titleAngle": 270, "titleBaseline": "top", "minExtent": 27, "maxExtent": 27, "titlePadding": 2}}}},
      {"data": {"values": [{"ref": 0}]}, "mark": {"type": "rule", "color": "navy", "opacity": 0.85, "strokeWidth": 1}, "encoding": {"y": {"datum": 0}}}
     ]}
    ],
    "resolve": {"scale": {"y": "independent"}}}
  ], "spacing": 25.5, "resolve": {"scale": {"color": "independent", "strokeDash": "independent"}, "legend": {"color": "independent", "strokeDash": "independent"}}},
  {"vconcat": [
   {"width": 523, "height": 234,
    "title": {"text": "4. Southern Africa", "offset": -18.5, "dx": 8.7, "baseline": "alphabetic", "frame": "group"},
    "layer": [
     {"transform": [{"filter": "datum.r == 4"}, {"fold": ["m","i","o","l","v"], "as": ["k","val"]}, {"filter": "isValid(datum.val)"}],
      "mark": {"type": "line", "strokeWidth": 1.5},
      "encoding": {
       "x": {"field": "t", "type": "quantitative", "scale": {"domain": [2020, 2100], "nice": false, "zero": false}, "axis": {"values": [2020,2030,2040,2050,2060,2070,2080,2090,2100], "tickCount": 20, "format": "d", "title": null, "grid": true, "labelOverlap": false}},
       "y": {"field": "val", "type": "quantitative", "scale": {"domain": [-39.6, 184.2], "nice": false, "zero": false}, "axis": {"values": [-25,0,25,50,75,100,125,150,175], "tickCount": 20, "format": "d", "title": "Δ (%)", "grid": true, "labelOverlap": false, "minExtent": 27, "maxExtent": 27, "titlePadding": 1}},
       "color": {"field": "k", "type": "nominal", "scale": {"domain": ["m","i","o","l","v"], "range": ["#1e90ff","#9acd32","#ffa500","#800080","#ff1493"]}, "legend": {"title": null, "orient": "none", "legendX": 5, "legendY": 3.5, "direction": "vertical", "symbolType": "M-1.4,0H1.4", "labelExpr": "datum.label == 'm' ? 'LTS MARA' : datum.label == 'i' ? 'LTS MIASMA' : datum.label == 'o' ? 'LTS LMM_Ro' : datum.label == 'l' ? 'Prevalence LMM' : 'Prevalence Vectri'"}},
       "strokeDash": {"field": "k", "type": "nominal", "scale": {"domain": ["m","i","o","l","v"], "range": [[1,0],[1,0],[1,0],[5.5,2.4],[5.5,2.4]]}, "legend": {"title": null, "orient": "none", "legendX": 5, "legendY": 3.5, "direction": "vertical", "symbolType": "M-1.4,0H1.4", "labelExpr": "datum.label == 'm' ? 'LTS MARA' : datum.label == 'i' ? 'LTS MIASMA' : datum.label == 'o' ? 'LTS LMM_Ro' : datum.label == 'l' ? 'Prevalence LMM' : 'Prevalence Vectri'"}}
      }},
     {"data": {"values": [{"ref": 0}]}, "mark": {"type": "rule", "color": "red", "opacity": 0.7, "strokeWidth": 1.5}, "encoding": {"y": {"datum": 0}}},
     {"data": {"values": [{"lab": "a"}]}, "mark": {"type": "text", "fontSize": 28, "fontWeight": "bold", "align": "left", "baseline": "alphabetic", "color": "black"}, "encoding": {"x": {"datum": 2041.4}, "y": {"datum": 154.8}, "text": {"field": "lab"}}}
    ]},
   {"width": 523, "height": 234,
    "layer": [
     {"layer": [
      {"transform": [{"filter": "datum.r == 4 && isValid(datum.T)"}], "mark": {"type": "line", "color": "#b22222", "strokeWidth": 1.5},
       "encoding": {"x": {"field": "t", "type": "quantitative", "scale": {"domain": [2020, 2100], "nice": false, "zero": false}, "axis": {"values": [2020,2030,2040,2050,2060,2070,2080,2090,2100], "tickCount": 20, "format": "d", "title": "Years", "titlePadding": 1.5, "grid": true, "labelOverlap": false}},
        "y": {"field": "T", "type": "quantitative", "scale": {"domain": [-5, 3], "nice": false, "zero": false}, "axis": {"orient": "left", "values": [-5,-4,-3,-2,-1,0,1,2], "tickCount": 20, "format": "d", "title": "Δ Temperature (%)", "titleColor": "#b22222", "labelColor": "#b22222", "grid": true, "labelOverlap": false, "minExtent": 27, "maxExtent": 27, "titlePadding": 1}}}},
      {"data": {"values": [{"ref": 0}]}, "mark": {"type": "rule", "color": "#b22222", "opacity": 0.5, "strokeWidth": 1.5}, "encoding": {"y": {"datum": 0}}},
      {"data": {"values": [{"lab": "b"}]}, "mark": {"type": "text", "fontSize": 28, "fontWeight": "bold", "align": "left", "baseline": "alphabetic", "color": "black"}, "encoding": {"x": {"datum": 2021.2}, "y": {"datum": 2.06}, "text": {"field": "lab"}}}
     ]},
     {"layer": [
      {"transform": [{"filter": "datum.r == 4 && isValid(datum.R)"}], "mark": {"type": "line", "color": "navy", "strokeWidth": 1.5},
       "encoding": {"x": {"field": "t", "type": "quantitative", "axis": {"values": [2020,2030,2040,2050,2060,2070,2080,2090,2100], "tickCount": 20, "format": "d", "title": "Years", "titlePadding": 1.5, "grid": true, "labelOverlap": false}},
        "y": {"field": "R", "type": "quantitative", "scale": {"domain": [-54, 90], "nice": false, "zero": false}, "axis": {"orient": "right", "values": [-54,-36,-18,0,18,36,54,72,90], "tickCount": 20, "format": "d", "title": "Δ Rainfall (%)", "titleColor": "navy", "labelColor": "navy", "grid": false, "labelOverlap": false, "titleAngle": 270, "titleBaseline": "top", "minExtent": 27, "maxExtent": 27, "titlePadding": 2}}}},
      {"data": {"values": [{"ref": 0}]}, "mark": {"type": "rule", "color": "navy", "opacity": 0.85, "strokeWidth": 1}, "encoding": {"y": {"datum": 0}}}
     ]}
    ],
    "resolve": {"scale": {"y": "independent"}}}
  ], "spacing": 25.5, "resolve": {"scale": {"color": "independent", "strokeDash": "independent"}, "legend": {"color": "independent", "strokeDash": "independent"}}}
 ], "spacing": 8, "resolve": {"scale": {"color": "independent", "strokeDash": "independent"}, "legend": {"color": "independent", "strokeDash": "independent"}}}
]
}
